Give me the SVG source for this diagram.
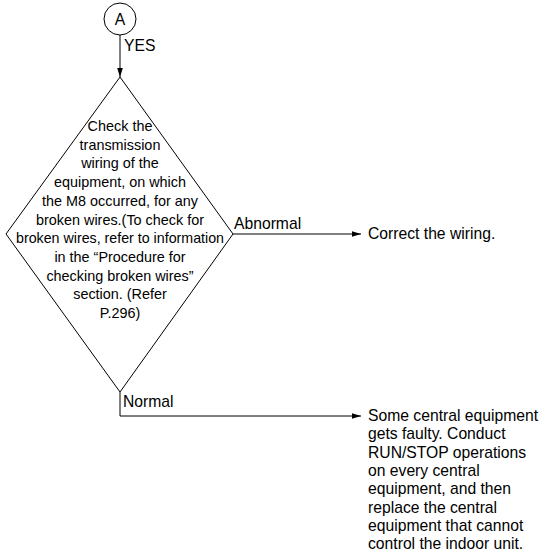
<svg xmlns="http://www.w3.org/2000/svg" width="544" height="553" viewBox="0 0 544 553">
<style>
text{font-family:"Liberation Sans",Arial,sans-serif;font-size:14.4px;fill:#000}
.c{text-anchor:middle}
.b{font-size:15.7px}
.ln{fill:none;stroke:#000;stroke-width:1}
</style>
<defs>
<marker id="ah" markerWidth="10" markerHeight="8" refX="9" refY="4" orient="auto" markerUnits="userSpaceOnUse">
<path d="M0,1.2 L9,4 L0,6.8 Z" fill="#000"/>
</marker>
</defs>
<rect width="544" height="553" fill="#fff"/>
<g id="connectors">
<line class="ln" x1="120" y1="35" x2="120" y2="77" marker-end="url(#ah)"/>
<text x="124" y="51" class="b">YES</text>
<line class="ln" x1="233" y1="234" x2="361" y2="234" marker-end="url(#ah)"/>
<text x="234" y="229" class="b">Abnormal</text>
<polyline class="ln" points="120,392 120,416 361,416" marker-end="url(#ah)"/>
<text x="123" y="407" class="b">Normal</text>
</g>
<g id="nodeA">
<circle cx="120" cy="19" r="16" fill="#fff" stroke="#000"/>
<text class="c b" x="120" y="24.5">A</text>
</g>
<g id="check">
<polygon points="120,77 233,234 120,392 6,234" fill="#fff" stroke="#000"/>
<text class="c" x="120" y="131">Check the</text>
<text class="c" x="120" y="149.7">transmission</text>
<text class="c" x="120" y="168.4">wiring of the</text>
<text class="c" x="120" y="187.1">equipment, on which</text>
<text class="c" x="120" y="205.8">the M8 occurred, for any</text>
<text class="c" x="120" y="224.5">broken wires.(To check for</text>
<text class="c" x="120" y="243.2" textLength="208" lengthAdjust="spacingAndGlyphs">broken wires, refer to information</text>
<text class="c" x="120" y="261.9">in the “Procedure for</text>
<text class="c" x="120" y="280.6">checking broken wires”</text>
<text class="c" x="120" y="299.3">section. (Refer</text>
<text class="c" x="120" y="318">P.296)</text>
</g>
<g id="correct">
<text x="368" y="239" class="b">Correct the wiring.</text>
</g>
<g id="replace">
<text x="368" y="421" class="b">Some central equipment</text>
<text x="368" y="439.3" class="b">gets faulty. Conduct</text>
<text x="368" y="457.6" class="b">RUN/STOP operations</text>
<text x="368" y="475.9" class="b">on every central</text>
<text x="368" y="494.2" class="b">equipment, and then</text>
<text x="368" y="512.5" class="b">replace the central</text>
<text x="368" y="530.8" class="b">equipment that cannot</text>
<text x="368" y="549" class="b">control the indoor unit.</text>
</g>
</svg>
